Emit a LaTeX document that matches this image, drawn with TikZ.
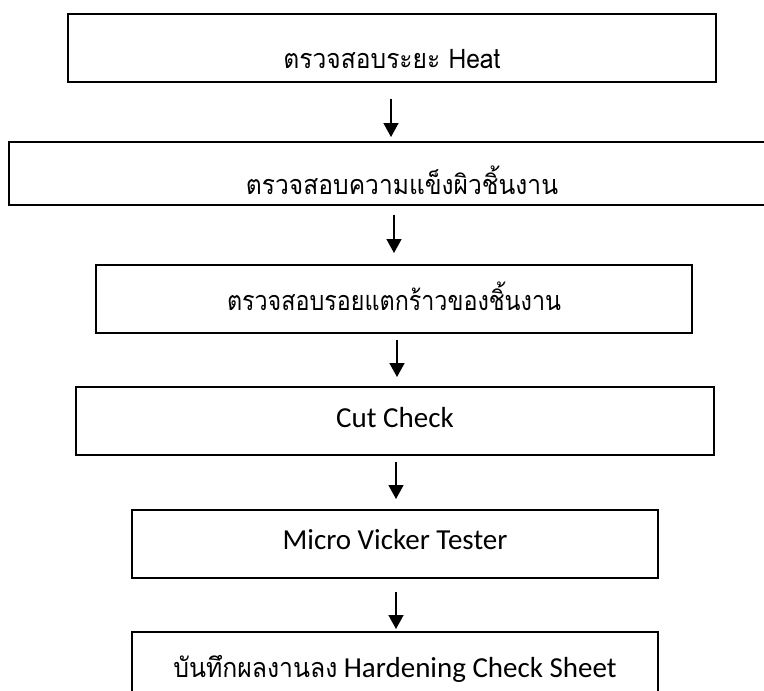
\documentclass[tikz,border=0pt]{standalone}
\usepackage{fontspec}
\setmainfont{Carlito}
\newfontfamily\thaifont[Script=Thai]{Loma}
\usetikzlibrary{arrows.meta}
% Thai run set in Loma, squeezed horizontally to a given width
\newcommand{\thaitext}[2]{\resizebox{#1}{\height}{\thaifont\fontsize{27}{32}\selectfont #2}}

\begin{document}
\begin{tikzpicture}[x=1pt,y=-1pt,
  stepbox/.style={draw=black, line width=1.5pt, rectangle, inner sep=0pt,
    anchor=north, font=\fontsize{29}{34}\selectfont},
  flow/.style={line width=1.5pt, -{Triangle[width=15pt,length=14pt]}}]
\useasboundingbox (0,0) rectangle (764,691);
\clip (0,0) rectangle (764,691);
\fill[white] (0,0) rectangle (764,691);

% process steps
\node[stepbox, minimum width=648pt, text height=55pt, text depth=13pt] (b1) at (392,13)
  {\thaitext{217pt}{ตรวจสอบระยะ Heat}};
\node[stepbox, minimum width=786pt, text height=53pt, text depth=10pt] (b2) at (402,141)
  {\thaitext{312pt}{ตรวจสอบความแข็งผิวชิ้นงาน}};
\node[stepbox, minimum width=596pt, text height=46pt, text depth=22pt] (b3) at (394,264)
  {\thaitext{334pt}{ตรวจสอบรอยแตกร้าวของชิ้นงาน}};
\node[stepbox, minimum width=638pt, text height=41pt, text depth=27pt] (b4) at (395,386)
  {Cut Check};
\node[stepbox, minimum width=526pt, text height=40pt, text depth=28pt] (b5) at (395,509)
  {Micro Vicker Tester};
\node[stepbox, minimum width=526pt, text height=46pt, text depth=28pt] (b6) at (395,631)
  {\thaitext{164pt}{บันทึกผลงานลง} Hardening Check Sheet};

% arrow columns
\coordinate (a1) at (391,0);
\coordinate (a2) at (394,0);
\coordinate (a3) at (397,0);
\coordinate (a4) at (396,0);
\coordinate (a5) at (396,0);

% connectors
\draw[flow, shorten <=16pt, shorten >=4pt] (b1.south -| a1) -- (b2.north -| a1);
\draw[flow, shorten <=9pt, shorten >=11pt] (b2.south -| a2) -- (b3.north -| a2);
\draw[flow, shorten <=6pt, shorten >=9pt] (b3.south -| a3) -- (b4.north -| a3);
\draw[flow, shorten <=6pt, shorten >=10pt] (b4.south -| a4) -- (b5.north -| a4);
\draw[flow, shorten <=13pt, shorten >=2pt] (b5.south -| a5) -- (b6.north -| a5);
\end{tikzpicture}
\end{document}
